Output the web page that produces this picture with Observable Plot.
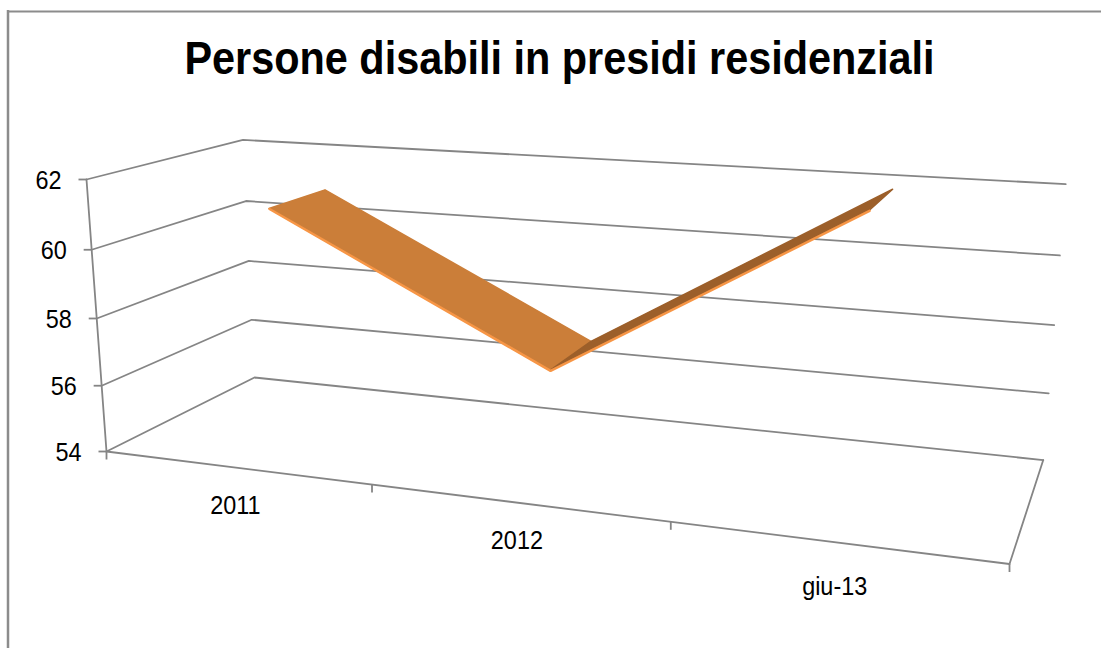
<!DOCTYPE html>
<html><head><meta charset="utf-8">
<style>html,body{margin:0;padding:0;background:#fff}svg{display:block}</style>
<script src="https://cdn.jsdelivr.net/npm/d3@7"></script>
<script src="https://cdn.jsdelivr.net/npm/@observablehq/plot@0.6"></script>
</head><body><div id="chart"></div>
<script>
const title = "Persone disabili in presidi residenziali";
const categories = ["2011", "2012", "giu-13"];
const values = [61, 57, 62];
const yTicks = [54, 56, 58, 60, 62];
const W = 1101, H = 648;
const yMin = 54, yMax = 62;
const depthFront = 0.3, depthBack = 0.7;

// perspective camera: corners of the 3D box and their homogeneous weights
const O = [106, 451], Fx = [1009, 563.5], Fy = [86, 179], Fz = [254, 377];
const wx = 0.833, wy = 0.957, wz = 1.152;
function P(u, value, w) {
  const v = (value - yMin) / (yMax - yMin);
  const d = 1 + u * (wx - 1) + v * (wy - 1) + w * (wz - 1);
  const c = i => (O[i] + u * (wx * Fx[i] - O[i]) + v * (wy * Fy[i] - O[i]) + w * (wz * Fz[i] - O[i])) / d;
  return [c(0), c(1)];
}
const n = categories.length;
const uCenter = i => (i + 0.5) / n;

const gridRows = yTicks.flatMap(t => [[0, t, 0], [0, t, 1], [1, t, 1]].map(p => {
  const [x, y] = P(...p); return {t, x, y};
}));
const edge = (a, b) => [P(...a), P(...b)].map(([x, y]) => ({x, y}));
const floorFront = edge([0, yMin, 0], [1, yMin, 0]);
const floorRight = edge([1, yMin, 0], [1, yMin, 1]);
const wallAxis = edge([0, yMin, 0], [0, yMax, 0]);
const yTickRows = yTicks.map(t => { const [x, y] = P(0, t, 0); return {t, x, y}; });
const xTickRows = d3.range(n + 1).map(i => { const [x, y] = P(i / n, yMin, 0); return {x, y}; });
const labelGap = [38, 38, 44];
const labelRows = categories.map((c, i) => { const [x, y] = P(uCenter(i), yMin, 0); return {c, x, y: y + labelGap[i]}; });

const ribbon = values.map((val, i) => {
  const [x1, y1] = P(uCenter(i), val, depthFront);
  const [x2, y2] = P(uCenter(i), val, depthBack);
  return {i, x1, y1, x2, y2};
});
const segA = ribbon.slice(0, 2), segB = ribbon.slice(1, 3);

const grey = "#858585";
const gridWidth = 1.8;
const font = "Liberation Sans, Arial, sans-serif";
const chart = Plot.plot({
  width: W, height: H, margin: 0,
  style: {background: "#fff", fontFamily: font},
  x: {axis: null, domain: [0, W], range: [0, W]},
  y: {axis: null, domain: [0, H], range: [0, H]},
  marks: [
    Plot.ruleY([11], {x1: 7, x2: W, stroke: "#8c8c8c", strokeWidth: 2}),
    Plot.ruleX([7.5], {y1: 10, y2: H, stroke: "#8c8c8c", strokeWidth: 2.5}),
    Plot.line(gridRows, {x: "x", y: "y", z: "t", stroke: grey, strokeWidth: gridWidth}),
    Plot.line(floorFront, {x: "x", y: "y", stroke: grey, strokeWidth: gridWidth}),
    Plot.line(floorRight, {x: "x", y: "y", stroke: grey, strokeWidth: gridWidth}),
    Plot.line(wallAxis, {x: "x", y: "y", stroke: grey, strokeWidth: gridWidth}),
    Plot.link(yTickRows, {x1: d => d.x - 8, x2: "x", y1: "y", y2: "y", stroke: grey, strokeWidth: gridWidth}),
    Plot.link(xTickRows, {x1: "x", x2: "x", y1: "y", y2: d => d.y + 8, stroke: grey, strokeWidth: gridWidth}),
    Plot.text(yTickRows, {x: d => d.x - 25, y: d => d.y + 1, text: d => String(d.t), textAnchor: "end", fontSize: 26, fill: "#000"}),
    Plot.text(labelRows, {x: "x", y: "y", text: "c", fontSize: 26, fill: "#000"}),
    Plot.area(segA, {x1: "x1", y1: "y1", x2: "x2", y2: "y2", fill: "#cb7e39", stroke: "#cb7e39", strokeWidth: 1.5}),
    Plot.area(segB, {x1: "x1", y1: "y1", x2: "x2", y2: "y2", fill: "#9c5f2a", stroke: "#9c5f2a", strokeWidth: 1.5}),
    Plot.line(ribbon, {x: "x1", y: "y1", stroke: "#f79646", strokeWidth: 2.5}),
    Plot.text([title], {x: 559, y: 59, text: d => d, fontSize: 46, fontWeight: "bold", fill: "#000"})
  ]
});
document.getElementById("chart").append(chart);
// the reference's type is horizontally condensed
chart.querySelectorAll("text").forEach(t => {
  t.setAttribute("textLength", t.getComputedTextLength() * 0.9);
  t.setAttribute("lengthAdjust", "spacingAndGlyphs");
});
</script></body></html>
